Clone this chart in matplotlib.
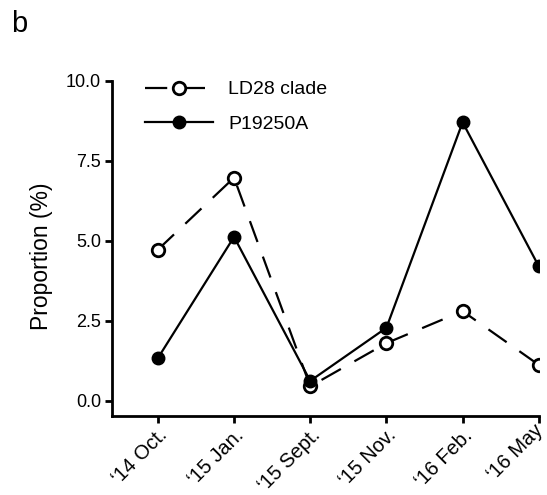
import matplotlib
matplotlib.use("Agg")
import matplotlib.pyplot as plt

plt.rcParams['font.family'] = ['Liberation Sans', 'DejaVu Sans']

categories = ["\u201814 Oct.", "\u201815 Jan.", "\u201815 Sept.", "\u201815 Nov.", "\u201816 Feb.", "\u201816 May"]
ld28 = [4.72, 6.97, 0.45, 1.8, 2.8, 1.12]
p19250a = [1.33, 5.12, 0.62, 2.28, 8.7, 4.2]
yticks = [0.0, 2.5, 5.0, 7.5, 10.0]

fig = plt.figure(figsize=(5.47, 4.95), dpi=100)
ax = fig.add_axes([0.205, 0.16, 0.78, 0.677])

x = list(range(len(categories)))
ax.plot(x, ld28, color='black', lw=1.6, dashes=[10, 7], marker='o', ms=9,
        mfc='white', mec='black', mew=2, label='LD28 clade')
ax.plot(x, p19250a, color='black', lw=1.6, marker='o', ms=9,
        mfc='black', mec='black', label='P19250A')

ax.set_xlim(-0.6, 5)
ax.set_ylim(-0.47, 10)
ax.set_xticks(x)
ax.set_xticklabels(categories, rotation=45, ha='right', va='top',
                   rotation_mode='anchor', fontsize=14.5)
# keep the last label inside the canvas
ax.get_xticklabels()[-1].set_va('center_baseline')
ax.set_yticks(yticks)
ax.set_yticklabels([f"{v:.1f}" for v in yticks], fontsize=13)
ax.set_ylabel('Proportion (%)', fontsize=16.5)
ax.yaxis.set_label_coords(-0.166, 0.475)
ax.yaxis.label.set_va('center')

for s in ['top', 'right']:
    ax.spines[s].set_visible(False)
for s in ['left', 'bottom']:
    ax.spines[s].set_linewidth(2)
ax.tick_params(axis='both', width=2, length=5, direction='out', pad=3)
ax.tick_params(axis='x', pad=2)

ax.legend(loc='upper left', bbox_to_anchor=(0.037, 1.052), frameon=False, fontsize=14,
          handlelength=3.5, handletextpad=0.77, labelspacing=0.86)

fig.text(0.02, 0.936, 'b', fontsize=21)

fig.savefig('out.png', dpi=100)
